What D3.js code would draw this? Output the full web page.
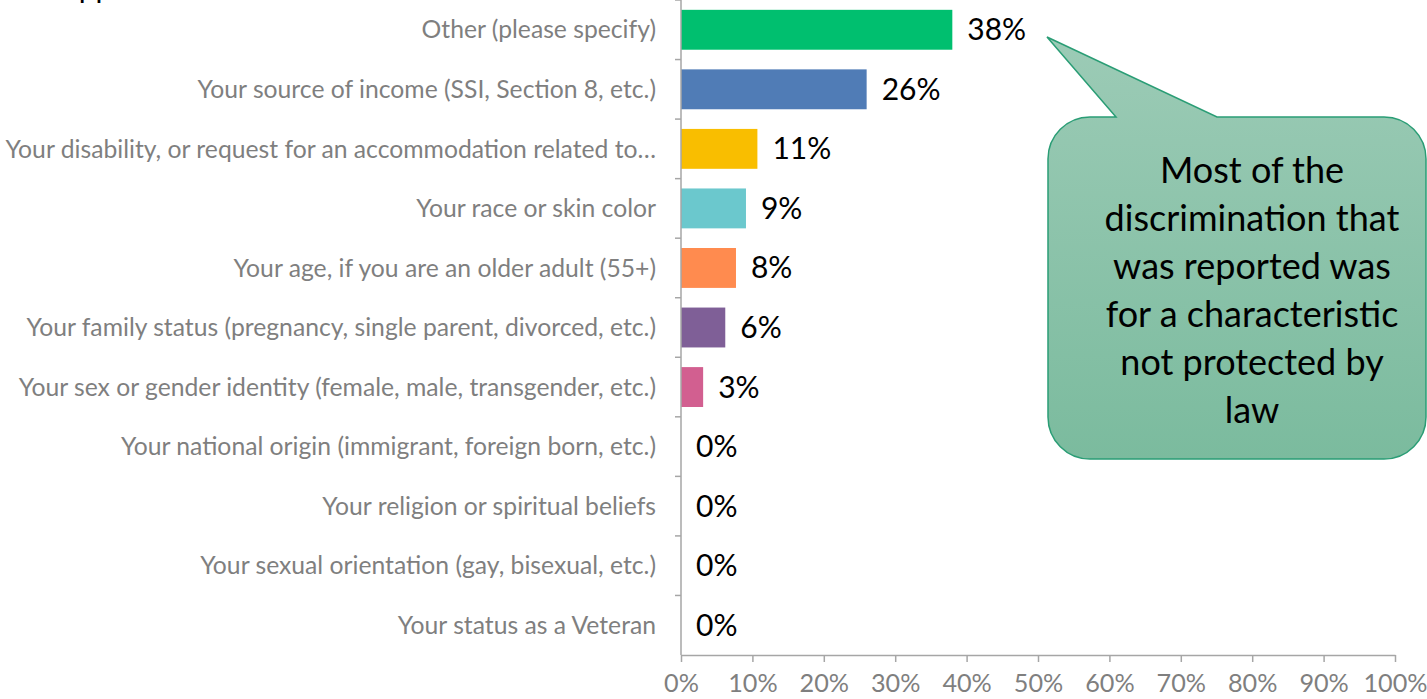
<!DOCTYPE html>
<html>
<head>
<meta charset="utf-8">
<script src="https://cdn.jsdelivr.net/npm/d3@7"></script>
<style>
  html, body { margin: 0; padding: 0; background: #fff; overflow: hidden; }
  svg { display: block; font-family: Lato, "Open Sans", sans-serif; }
</style>
</head>
<body>
<div id="chart"></div>
<script>
// categories, top to bottom
const categories = [
  "Other (please specify)",
  "Your source of income (SSI, Section 8, etc.)",
  "Your disability, or request for an accommodation related to\u2026",
  "Your race or skin color",
  "Your age, if you are an older adult (55+)",
  "Your family status (pregnancy, single parent, divorced, etc.)",
  "Your sex or gender identity (female, male, transgender, etc.)",
  "Your national origin (immigrant, foreign born, etc.)",
  "Your religion or spiritual beliefs",
  "Your sexual orientation (gay, bisexual, etc.)",
  "Your status as a Veteran"
];
const values = [0.38, 0.26, 0.107, 0.091, 0.077, 0.062, 0.031, 0, 0, 0, 0];
const barColors = ["#00bf6f", "#507cb6", "#f9be00", "#6bc8cd", "#ff8b4f", "#7f5f97", "#d25f90", "#999", "#999", "#999", "#999"];
const xTicks = [0, 0.1, 0.2, 0.3, 0.4, 0.5, 0.6, 0.7, 0.8, 0.9, 1];
const calloutLines = ["Most of the", "discrimination that", "was reported was", "for a characteristic", "not protected by", "law"];

const width = 1427, height = 699;
const plotLeft = 681, plotRight = 1395, plotTop = 0, plotBottom = 655;

const svg = d3.select("#chart").append("svg")
  .attr("width", width)
  .attr("height", height);

const x = d3.scaleLinear().domain([0, 1]).range([plotLeft, plotRight]);
const y = d3.scaleBand().domain(categories).range([plotTop, plotBottom]).paddingInner(0.33).paddingOuter(0.165);

// title sits above the visible area, only descenders peek in
svg.append("text")
  .attr("x", 47).attr("y", -2)
  .style("font-size", "30px").style("fill", "#000")
  .text("happened");

// bars
svg.selectAll("rect.bar")
  .data(categories)
  .enter().append("rect")
  .attr("class", "bar")
  .attr("x", x(0))
  .attr("y", d => y(d))
  .attr("width", (d, i) => x(values[i]) - x(0))
  .attr("height", y.bandwidth())
  .attr("fill", (d, i) => barColors[i]);

// value labels
svg.selectAll("text.val")
  .data(categories)
  .enter().append("text")
  .attr("class", "val")
  .attr("x", (d, i) => x(values[i]) + 15)
  .attr("y", d => y(d) + y.bandwidth() / 2)
  .attr("dy", "0.35em")
  .style("font-size", "30px")
  .style("fill", "#000")
  .text((d, i) => Math.round(values[i] * 100) + "%");

// y axis line + ticks between categories
const step = (plotBottom - plotTop) / categories.length;
svg.append("line")
  .attr("x1", plotLeft).attr("x2", plotLeft)
  .attr("y1", plotTop).attr("y2", plotBottom)
  .style("stroke", "#a6a6a6").style("stroke-width", 1.5);
d3.range(categories.length).forEach(i => {
  svg.append("line")
    .attr("x1", plotLeft - 6).attr("x2", plotLeft)
    .attr("y1", plotTop + i * step).attr("y2", plotTop + i * step)
    .style("stroke", "#a6a6a6").style("stroke-width", 1.5);
});

// category labels
const catLabels = svg.selectAll("text.cat")
  .data(categories)
  .enter().append("text")
  .attr("class", "cat")
  .attr("x", 656)
  .attr("y", d => y(d) + y.bandwidth() / 2)
  .attr("dy", "0.35em")
  .attr("text-anchor", "end")
  .style("font-size", "21px")
  .style("fill", "#7f7f7f")
  .text(d => d);

// fit font so longest label spans ~651px like the reference
let longest = 0;
catLabels.each(function() { longest = Math.max(longest, this.getComputedTextLength()); });
const catSize = 21 * 651 / longest;
catLabels.style("font-size", catSize + "px");

// x axis
const xAxis = svg.append("g")
  .attr("transform", `translate(0,${plotBottom})`)
  .call(d3.axisBottom(x).tickValues(xTicks).tickFormat(d3.format(".0%")).tickSize(7).tickSizeOuter(0));
xAxis.select(".domain").style("stroke", "#a6a6a6").style("stroke-width", 1.5);
xAxis.selectAll(".tick line").style("stroke", "#a6a6a6").style("stroke-width", 1.5);
xAxis.selectAll(".tick text")
  .attr("y", 28)
  .attr("dy", "0.35em")
  .style("font-family", "Lato, 'Open Sans', sans-serif")
  .style("font-size", (catSize + 0.5) + "px")
  .style("fill", "#7f7f7f");

// callout bubble
const defs = svg.append("defs");
const grad = defs.append("linearGradient").attr("id", "calloutGrad")
  .attr("x1", 0).attr("y1", 0).attr("x2", 0).attr("y2", 1);
grad.append("stop").attr("offset", "0%").attr("stop-color", "#9ccbb6");
grad.append("stop").attr("offset", "100%").attr("stop-color", "#7bbb9e");

const bx0 = 1048, bx1 = 1426, by0 = 117, by1 = 459, r = 42;
const tip = [1047, 37], baseL = 1116, baseR = 1217;
const p = d3.path();
p.moveTo(bx0 + r, by0);
p.lineTo(baseL, by0);
p.lineTo(tip[0], tip[1]);
p.lineTo(baseR, by0);
p.lineTo(bx1 - r, by0);
p.arcTo(bx1, by0, bx1, by0 + r, r);
p.lineTo(bx1, by1 - r);
p.arcTo(bx1, by1, bx1 - r, by1, r);
p.lineTo(bx0 + r, by1);
p.arcTo(bx0, by1, bx0, by1 - r, r);
p.lineTo(bx0, by0 + r);
p.arcTo(bx0, by0, bx0 + r, by0, r);
p.closePath();
svg.append("path")
  .attr("d", p.toString())
  .attr("fill", "url(#calloutGrad)")
  .attr("stroke", "#2a9d75")
  .attr("stroke-width", 1.5);

svg.selectAll("text.callout")
  .data(calloutLines)
  .enter().append("text")
  .attr("class", "callout")
  .attr("x", 1252)
  .attr("y", (d, i) => 170 + i * 48)
  .attr("dy", "0.35em")
  .attr("text-anchor", "middle")
  .style("font-size", "36px")
  .style("fill", "#000")
  .text(d => d);
</script>
</body>
</html>
